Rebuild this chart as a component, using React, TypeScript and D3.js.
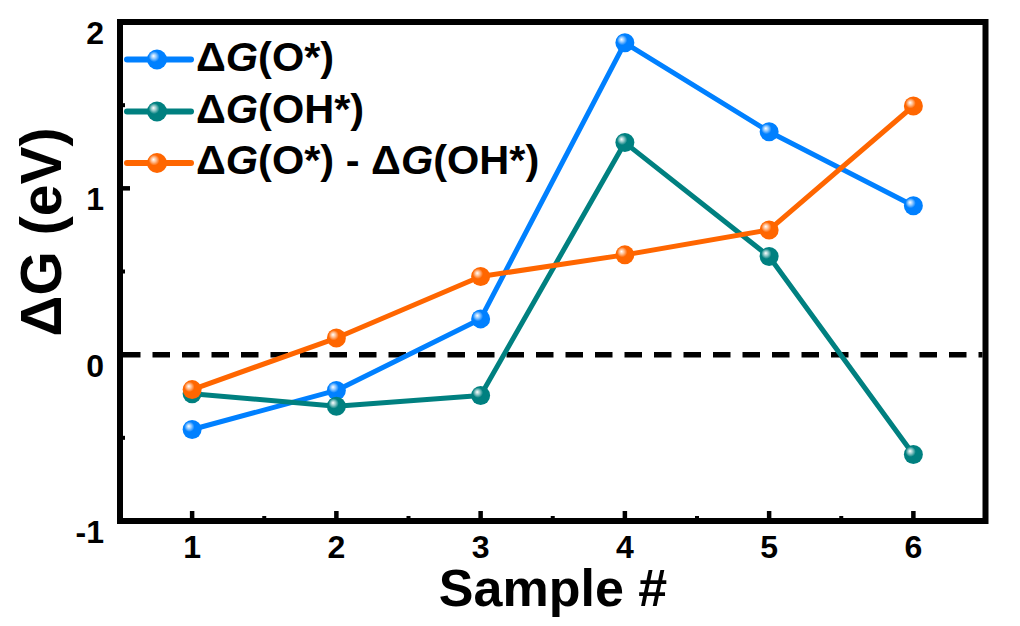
import React from "react";
import * as d3 from "d3";

const samples = [1, 2, 3, 4, 5, 6];
const dgO = [-0.45, -0.215, 0.215, 1.875, 1.34, 0.895];
const dgOH = [-0.235, -0.31, -0.245, 1.275, 0.59, -0.6];
const dgDiff = [-0.21, 0.1, 0.47, 0.6, 0.75, 1.495];
const xTicks = [1, 2, 3, 4, 5, 6];
const xMinor = [1.5, 2.5, 3.5, 4.5, 5.5];
const yTicks = [-1, 0, 1, 2];
const yMinor = [-0.5, 0.5, 1.5];

const seriesList = [
  { id: "o", color: "#0080FF", values: dgO, label: ["Δ", "G", "(O*)"] },
  { id: "oh", color: "#008080", values: dgOH, label: ["Δ", "G", "(OH*)"] },
  { id: "diff", color: "#FF6600", values: dgDiff, label: ["Δ", "G", "(O*) - ", "Δ", "G", "(OH*)"] },
];

const W = 1020;
const H = 626;
const L = 120;
const R = 985.5;
const T = 22;
const B = 521;
const FONT = "'Liberation Sans', Arial, sans-serif";

export default function App() {
  const x = d3.scaleLinear().domain([0.5, 6.5]).range([L, R]);
  const y = d3.scaleLinear().domain([-1, 2]).range([B, T]);
  const line = d3
    .line<number>()
    .x((_, i) => x(samples[i]))
    .y((d) => y(d));

  const legendY = [59.5, 111.5, 163];

  return (
    <svg
      width={W}
      height={H}
      style={{ position: "absolute", left: 0, top: 0, background: "#fff" }}
      fontFamily={FONT}
    >
      <defs>
        {seriesList.map((s) => (
          <radialGradient key={s.id} id={"g-" + s.id} cx="0.4" cy="0.4" r="0.6" fx="0.32" fy="0.32">
            <stop offset="0%" stopColor="#ffffff" />
            <stop offset="22%" stopColor={d3.interpolateRgb("#ffffff", s.color)(0.45)} />
            <stop offset="45%" stopColor={s.color} />
            <stop offset="100%" stopColor={s.color} />
          </radialGradient>
        ))}
      </defs>
      <rect x={0} y={0} width={W} height={H} fill="#fff" />

      {/* zero dashed line */}
      <line x1={L + 3} x2={R - 3} y1={y(0)} y2={y(0)} stroke="#000" strokeWidth={5.5} strokeDasharray="17.5 12" />

      {/* ticks */}
      {xTicks.map((t) => (
        <line key={"xt" + t} x1={x(t)} x2={x(t)} y1={B} y2={B - 10} stroke="#000" strokeWidth={4.5} />
      ))}
      {xMinor.map((t) => (
        <line key={"xm" + t} x1={x(t)} x2={x(t)} y1={B} y2={B - 5} stroke="#000" strokeWidth={4} />
      ))}
      {yTicks.map((t) => (
        <line key={"yt" + t} x1={L} x2={L + 10} y1={y(t)} y2={y(t)} stroke="#000" strokeWidth={4.5} />
      ))}
      {yMinor.map((t) => (
        <line key={"ym" + t} x1={L} x2={L + 5} y1={y(t)} y2={y(t)} stroke="#000" strokeWidth={4} />
      ))}

      {/* frame */}
      <rect x={L} y={T} width={R - L} height={B - T} fill="none" stroke="#000" strokeWidth={6} />

      {/* series */}
      {seriesList.map((s) => (
        <g key={s.id}>
          <path d={line(s.values) || ""} fill="none" stroke={s.color} strokeWidth={5} strokeLinejoin="round" />
          {s.values.map((v, i) => (
            <circle key={i} cx={x(samples[i])} cy={y(v)} r={9.5} fill={`url(#g-${s.id})`} />
          ))}
        </g>
      ))}

      {/* tick labels */}
      {xTicks.map((t) => (
        <text key={"xl" + t} x={x(t)} y={558} textAnchor="middle" fontSize={32} fontWeight="bold">
          {t}
        </text>
      ))}
      {yTicks.map((t) => (
        <text key={"yl" + t} x={104} y={y(t) + 22} textAnchor="end" fontSize={32} fontWeight="bold">
          {t}
        </text>
      ))}

      {/* axis titles */}
      <text x={553} y={606} textAnchor="middle" fontSize={52} fontWeight="bold">
        Sample #
      </text>
      <text
        transform={`translate(61, 232) rotate(-90)`}
        textAnchor="middle"
        fontSize={57}
        fontWeight="bold"
      >
        ΔG (eV)
      </text>

      {/* legend */}
      {seriesList.map((s, k) => (
        <g key={"lg" + s.id}>
          <line x1={127} x2={191} y1={legendY[k]} y2={legendY[k]} stroke={s.color} strokeWidth={6} strokeLinecap="round" />
          <circle cx={157} cy={legendY[k]} r={10} fill={`url(#g-${s.id})`} />
          <text x={196} y={legendY[k] + 11} fontSize={41.5} fontWeight="bold">
            {s.label.map((p, j) => (
              <tspan key={j} fontStyle={p === "G" ? "italic" : "normal"}>
                {p}
              </tspan>
            ))}
          </text>
        </g>
      ))}
    </svg>
  );
}
